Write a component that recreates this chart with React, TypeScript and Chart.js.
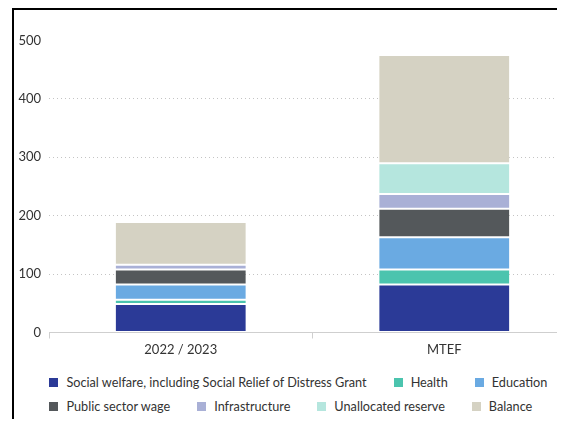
import React, { useEffect, useRef } from "react";
import { Chart, registerables } from "chart.js";

Chart.register(...registerables);

const categories = ["2022 / 2023", "MTEF"];
const seriesNames = [
  "Social welfare, including Social Relief of Distress Grant",
  "Health",
  "Education",
  "Public sector wage",
  "Infrastructure",
  "Unallocated reserve",
  "Balance",
];
const socialWelfare = [49, 82];
const health = [7, 26];
const education = [26, 55];
const publicSectorWage = [26, 49];
const infrastructure = [8, 25];
const unallocatedReserve = [0, 53];
const balance = [73, 185];
const seriesColors = ["#2b3a97", "#4bc4ae", "#6aaae2", "#54585b", "#a9b0d6", "#b5e6de", "#d5d2c3"];
const yMin = 0;
const yMax = 500;
const yStep = 100;

const FONT = "Lato, 'Noto Sans', sans-serif";

export default function App() {
  const canvasRef = useRef<HTMLCanvasElement | null>(null);

  useEffect(() => {
    const seriesValues = [socialWelfare, health, education, publicSectorWage, infrastructure, unallocatedReserve, balance];
    const chart = new Chart(canvasRef.current as HTMLCanvasElement, {
      type: "bar",
      data: {
        labels: categories,
        datasets: seriesNames.map((name, i) => ({
          label: name,
          data: seriesValues[i],
          backgroundColor: seriesColors[i],
          borderColor: "rgba(255,255,255,0.18)",
          borderWidth: 1,
          borderSkipped: false,
          barPercentage: 0.5,
          categoryPercentage: 1,
        })),
      },
      options: {
        animation: false,
        responsive: true,
        maintainAspectRatio: false,
        layout: { padding: { top: 30.5, left: 0, right: 0, bottom: 0 } },
        plugins: { legend: { display: false }, tooltip: { enabled: false } },
        scales: {
          x: {
            stacked: true,
            offset: true,
            afterFit: (scale: any) => {
              scale.height = 37.5;
            },
            grid: {
              drawOnChartArea: false,
              drawTicks: true,
              tickLength: 6,
              color: "#cfcfcf",
              offset: true,
            },
            border: { display: true, color: "#cfcfcf", width: 1 },
            ticks: {
              color: "#333333",
              padding: 4,
              font: { family: FONT, size: 13 },
            },
          },
          y: {
            stacked: true,
            min: yMin,
            max: yMax,
            afterFit: (scale: any) => {
              scale.width = 35;
            },
            border: { display: false, dash: [1, 3] },
            grid: {
              drawTicks: false,
              color: (ctx: any) =>
                ctx.tick && (ctx.tick.value === yMin || ctx.tick.value === yMax) ? "rgba(0,0,0,0)" : "#c4c4c4",
              lineWidth: 1,
            },
            ticks: {
              stepSize: yStep,
              padding: 8,
              color: "#333333",
              font: { family: FONT, size: 13 },
            },
          },
        },
      },
    } as any);
    return () => chart.destroy();
  }, []);

  return (
    <div
      style={{
        marginLeft: 4,
        borderTop: "2px solid #000",
        borderLeft: "2px solid #000",
        width: 551,
        height: 409,
        overflow: "hidden",
        position: "relative",
        background: "#fff",
      }}
    >
      <div style={{ position: "absolute", left: 0, top: 0, width: 562, height: 360 }}>
        <canvas ref={canvasRef} />
      </div>
      <div
        style={{
          position: "absolute",
          left: 35.4,
          top: 364,
          width: 515,
          display: "flex",
          flexWrap: "wrap",
          columnGap: 27,
          rowGap: 8,
          fontFamily: FONT,
          fontSize: 12.7,
          lineHeight: "16px",
          color: "#333333",
        }}
      >
        {seriesNames.map((name, i) => (
          <div key={name} style={{ display: "flex", alignItems: "center", whiteSpace: "nowrap" }}>
            <span
              style={{
                display: "inline-block",
                width: 9,
                height: 9,
                background: seriesColors[i],
                marginRight: 8,
                flex: "none",
              }}
            />
            <span>{name}</span>
          </div>
        ))}
      </div>
    </div>
  );
}
